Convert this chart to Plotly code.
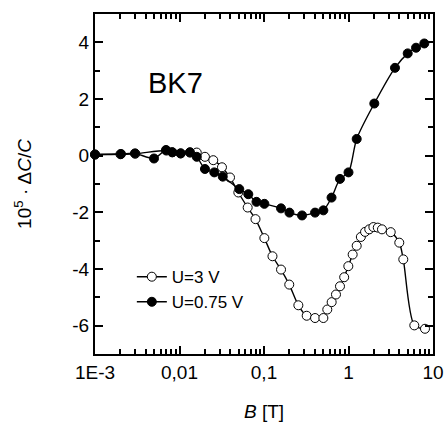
import plotly.graph_objects as go

# U = 3 V (open circles)
b_open = [0.001, 0.002, 0.003, 0.007, 0.0082, 0.0103, 0.0133, 0.016, 0.020, 0.0251, 0.0318,
          0.0396, 0.0497, 0.0641, 0.0793, 0.101, 0.126, 0.159, 0.199, 0.255, 0.320,
          0.402, 0.504, 0.561, 0.632, 0.711, 0.793, 0.889, 0.995, 1.12, 1.25, 1.40,
          1.57, 1.76, 1.97, 2.22, 2.49, 3.16, 3.99, 4.45, 6.01, 8.04]
v_open = [0.04, 0.05, 0.07, 0.18, 0.12, 0.08, 0.11, 0.11, -0.04, -0.16, -0.41,
          -0.77, -1.30, -1.83, -2.24, -2.91, -3.55, -4.02, -4.55, -5.28, -5.65,
          -5.73, -5.73, -5.43, -5.17, -4.90, -4.61, -4.29, -3.90, -3.49, -3.18, -2.87,
          -2.69, -2.60, -2.52, -2.54, -2.60, -2.70, -3.07, -3.66, -5.99, -6.11]

# U = 0.75 V (filled circles)
b_fill = [0.001, 0.00203, 0.00297, 0.00499, 0.00692, 0.00822, 0.01033, 0.0133, 0.0160,
          0.0200, 0.0258, 0.0325, 0.0510, 0.0652, 0.0815, 0.101, 0.159, 0.200, 0.282,
          0.402, 0.504, 0.630, 0.793, 1.0, 1.25, 2.02, 3.55, 5.02, 6.30, 7.89]
v_fill = [0.04, 0.06, 0.08, -0.10, 0.20, 0.12, 0.08, 0.12, -0.04,
          -0.47, -0.59, -0.74, -1.18, -1.36, -1.63, -1.70, -1.86, -2.01, -2.11,
          -2.01, -1.93, -1.48, -0.82, -0.59, 0.59, 1.84, 3.10, 3.61, 3.81, 3.96]

series_names = ["U=3 V", "U=0.75 V"]

x_tickvals = [0.001, 0.01, 0.1, 1, 10]
x_ticktext = ["1E-3", "0,01", "0,1", "1", "10"]
y_tickvals = [-6, -4, -2, 0, 2, 4]
y_ticktext = ["-6", "-4", "-2", "0", "2", "4"]

FONT = "Arial, Liberation Sans, sans-serif"

x_minor = [m * 10 ** e for e in (-3, -2, -1, 0) for m in range(2, 10)]
y_minor = [-7, -5, -3, -1, 1, 3, 5]

fig = go.Figure()
fig.add_trace(go.Scatter(
    x=b_open, y=v_open, name=series_names[0], mode="lines+markers",
    line=dict(color="black", width=1.4, shape="spline", smoothing=0.8),
    marker=dict(symbol="circle", size=9, color="white", line=dict(color="black", width=1)),
    cliponaxis=False,
))
fig.add_trace(go.Scatter(
    x=b_fill, y=v_fill, name=series_names[1], mode="lines+markers",
    line=dict(color="black", width=1.4, shape="spline", smoothing=0.8),
    marker=dict(symbol="circle", size=9, color="black", line=dict(color="black", width=1)),
    cliponaxis=False,
))
# empty helper trace so the top/right tick axes are drawn
fig.add_trace(go.Scatter(x=[], y=[], xaxis="x2", yaxis="y2", showlegend=False,
                         hoverinfo="skip"))

fig.add_annotation(x=0.237, y=0.797, xref="paper", yref="paper", text="BK7",
                   xanchor="center", yanchor="middle",
                   showarrow=False, font=dict(family=FONT, size=29, color="black"))

axis_common = dict(ticks="inside", ticklen=8, tickwidth=2, tickcolor="black",
                   showline=True, linewidth=2, linecolor="black",
                   showgrid=False, zeroline=False, automargin=False)

fig.update_layout(
    width=447, height=422,
    margin=dict(l=95, r=14, t=14, b=68),
    paper_bgcolor="white", plot_bgcolor="white",
    font=dict(family=FONT, size=19, color="black"),
    showlegend=True,
    legend=dict(x=0.109, y=0.279, xanchor="left", yanchor="top",
                bgcolor="rgba(0,0,0,0)", font=dict(family=FONT, size=17),
                itemwidth=30, tracegroupgap=0),
    xaxis=dict(
        type="log", range=[-3, 1],
        tickvals=x_tickvals, ticktext=x_ticktext,
        minor=dict(tickvals=x_minor, ticks="inside", ticklen=5, tickwidth=1.5,
                   tickcolor="black", showgrid=False),
        title=dict(text="<i>B</i> [T]", font=dict(size=19), standoff=23),
        tickfont=dict(size=19), **axis_common,
    ),
    yaxis=dict(
        range=[-7, 5],
        tickvals=y_tickvals, ticktext=y_ticktext,
        minor=dict(tickvals=y_minor, ticks="inside", ticklen=5, tickwidth=1.5,
                   tickcolor="black", showgrid=False),
        title=dict(text="10<sup>5</sup> · Δ<i>C</i>/<i>C</i>", font=dict(size=19), standoff=36),
        tickfont=dict(size=19), **axis_common,
    ),
    xaxis2=dict(
        type="log", range=[-3, 1], overlaying="x", side="top", anchor="y2",
        tickvals=x_tickvals, showticklabels=False,
        minor=dict(tickvals=x_minor, ticks="inside", ticklen=5, tickwidth=1.5,
                   tickcolor="black", showgrid=False),
        **axis_common,
    ),
    yaxis2=dict(
        range=[-7, 5], overlaying="y", side="right", anchor="x2",
        tickvals=y_tickvals, showticklabels=False,
        minor=dict(tickvals=y_minor, ticks="inside", ticklen=5, tickwidth=1.5,
                   tickcolor="black", showgrid=False),
        **axis_common,
    ),
)

fig.write_html("out.html", config={"displayModeBar": False},
               post_script="document.body.style.margin='0px';")
